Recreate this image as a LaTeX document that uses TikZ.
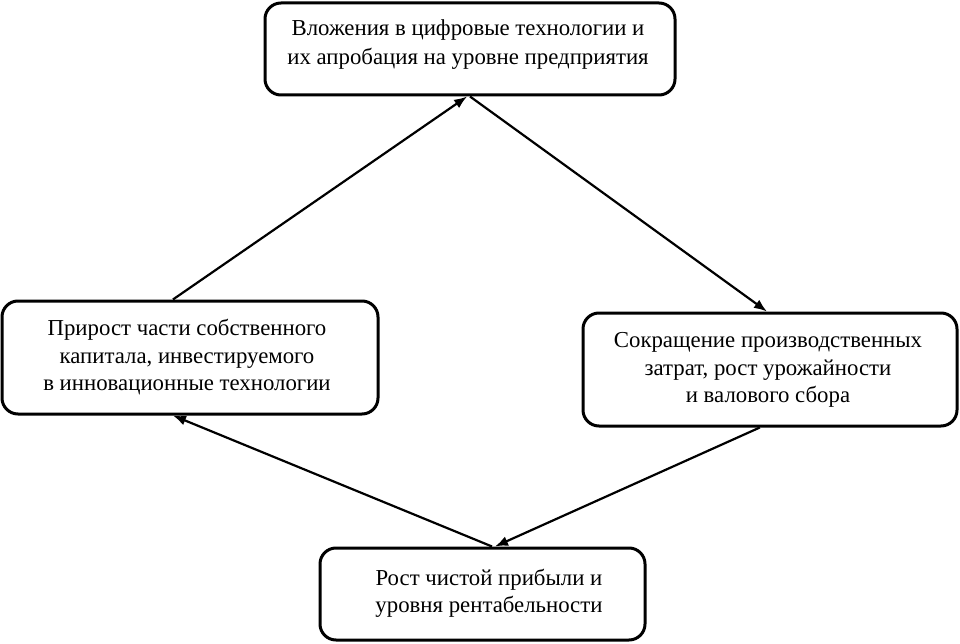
\documentclass[tikz,border=0pt]{standalone}
\usepackage{fontspec}
\setmainfont{Liberation Serif}
\usetikzlibrary{calc,arrows.meta}
\begin{document}
\begin{tikzpicture}[x=1pt,y=-1pt,
  box/.style={draw, line width=3pt, rounded corners=16pt, inner sep=0pt},
  txt/.style={align=center, inner sep=0pt},
  arr/.style={line width=2.2pt, -{Latex[length=13pt,width=10pt]}}]
\useasboundingbox (0,0) rectangle (960,644);
\node[box, minimum width=410, minimum height=92] (T) at (470,49) {};
\node[box, minimum width=376, minimum height=113] (L) at (190,357.5) {};
\node[box, minimum width=374, minimum height=113] (R) at (770,369.5) {};
\node[box, minimum width=325, minimum height=92] (B) at (482.5,594) {};

\node[txt, font=\fontsize{22.8}{29}\selectfont] (Tt) at (468,44.5) {Вложения в цифровые технологии и\\их апробация на уровне предприятия};
\node[txt, font=\fontsize{22.8}{27.5}\selectfont] (Lt) at (187,357.5) {Прирост части собственного\\капитала, инвестируемого\\в инновационные технологии};
\node[txt, font=\fontsize{22.8}{27.5}\selectfont] (Rt) at (768,370) {Сокращение производственных\\затрат, рост урожайности\\и валового сбора};
\node[txt, font=\fontsize{22.8}{27}\selectfont] (Bt) at (489,593) {Рост чистой прибыли и\\уровня рентабельности};

\draw[arr] ($(L.north west)!0.455!(L.north east)$) -- ($(T.south west)!0.493!(T.south east)$);
\draw[arr] (T.south) -- ($(R.north west)!0.492!(R.north east)$);
\draw[arr] ($(R.south west)!0.473!(R.south east)$) -- ($(B.north west)!0.538!(B.north east)$);
\draw[arr] ($(B.north west)!0.529!(B.north east)$) -- ($(L.south west)!0.455!(L.south east)$);
\end{tikzpicture}
\end{document}
